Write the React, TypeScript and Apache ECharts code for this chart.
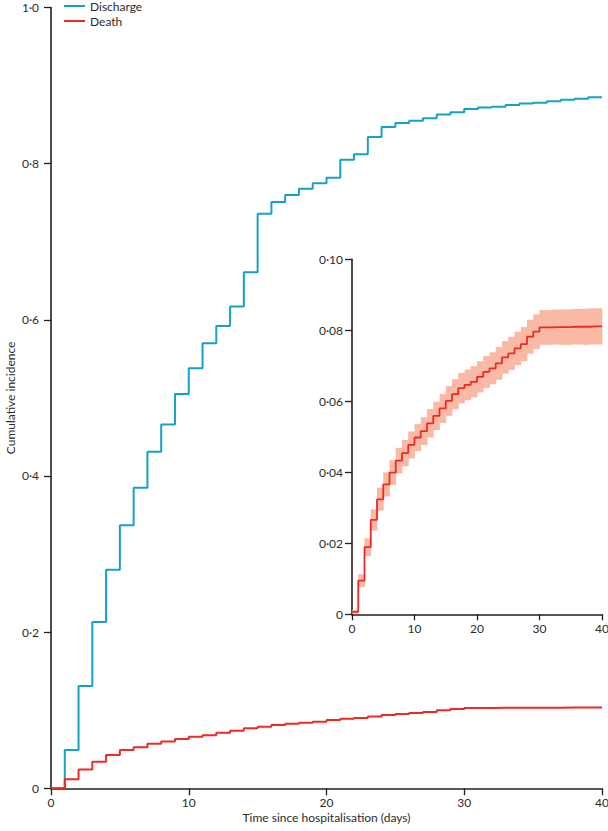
import React, { useEffect, useRef } from 'react';
import * as echarts from 'echarts';

// x positions: days since hospitalisation (interval starts) plus end point 40
const days = Array.from({ length: 41 }, (_, i) => i);

// Main panel cumulative incidence, value held over [day, day+1)
const dischargeCumInc = [0, 0.049, 0.131, 0.213, 0.280, 0.337, 0.385, 0.431, 0.466, 0.505, 0.538, 0.570, 0.592, 0.617, 0.661, 0.736, 0.751, 0.760, 0.768, 0.775, 0.782, 0.805, 0.812, 0.834, 0.847, 0.852, 0.855, 0.858, 0.863, 0.866, 0.870, 0.872, 0.873, 0.875, 0.877, 0.878, 0.880, 0.882, 0.883, 0.885];
const deathCumInc = [0, 0.0115, 0.024, 0.034, 0.0427, 0.049, 0.0525, 0.057, 0.060, 0.063, 0.066, 0.068, 0.0712, 0.0738, 0.0768, 0.0789, 0.081, 0.0827, 0.084, 0.0853, 0.0875, 0.089, 0.090, 0.092, 0.094, 0.095, 0.0964, 0.0977, 0.0999, 0.1016, 0.1028, 0.1030, 0.1032, 0.1032, 0.1033, 0.1033, 0.1033, 0.1034, 0.1034, 0.1034];

// Inset: death cumulative incidence with confidence band
const insetDeath = [0.0007, 0.0095, 0.0189, 0.0266, 0.0324, 0.0366, 0.0399, 0.0433, 0.0454, 0.0477, 0.0498, 0.0516, 0.0538, 0.0559, 0.0580, 0.0601, 0.0620, 0.0637, 0.0646, 0.0655, 0.0669, 0.0683, 0.0693, 0.0707, 0.0724, 0.0735, 0.0749, 0.0761, 0.0782, 0.0796, 0.0808, 0.0808, 0.0809, 0.0809, 0.0809, 0.0810, 0.0810, 0.0810, 0.0811, 0.0811];
const insetLower = [0.0002, 0.0077, 0.0164, 0.0236, 0.0292, 0.0332, 0.0364, 0.0397, 0.0417, 0.0439, 0.0460, 0.0477, 0.0498, 0.0519, 0.0539, 0.0559, 0.0578, 0.0594, 0.0603, 0.0611, 0.0625, 0.0638, 0.0648, 0.0661, 0.0678, 0.0688, 0.0702, 0.0713, 0.0734, 0.0747, 0.0759, 0.0759, 0.0760, 0.0759, 0.0759, 0.0760, 0.0760, 0.0759, 0.0760, 0.0760];
const insetUpper = [0.0012, 0.0113, 0.0214, 0.0296, 0.0356, 0.0400, 0.0434, 0.0469, 0.0491, 0.0515, 0.0536, 0.0555, 0.0578, 0.0599, 0.0621, 0.0643, 0.0662, 0.0680, 0.0689, 0.0699, 0.0713, 0.0728, 0.0738, 0.0753, 0.0770, 0.0782, 0.0796, 0.0809, 0.0830, 0.0845, 0.0857, 0.0857, 0.0858, 0.0859, 0.0859, 0.0860, 0.0860, 0.0861, 0.0862, 0.0862];

const legendNames = ['Discharge', 'Death'];
const xAxisName = 'Time since hospitalisation (days)';
const yAxisName = 'Cumulative incidence';

const BLUE = '#16A2C8';
const RED = '#EE2A24';
const BAND = '#F9B9A4';
const AXIS = '#231F20';
const TEXT = '#2b2b2b';
const FONT = 'Lato';

const stepData = (vals: number[]) =>
  days.map((d, i) => [d, i < vals.length ? vals[i] : vals[vals.length - 1]]);

const fmt = (digits: number) => (v: number) =>
  v === 0 ? '0' : v.toFixed(digits).replace('.', '·');

export default function App() {
  const ref = useRef<HTMLDivElement>(null);
  useEffect(() => {
    if (!ref.current) return;
    const chart = echarts.init(ref.current, undefined, { renderer: 'svg' });
    const axisCommon = {
      axisLine: { show: true, lineStyle: { color: AXIS, width: 1.6 } },
      axisTick: { show: true, length: 7, lineStyle: { color: AXIS, width: 1.3 } },
      splitLine: { show: false },
    };
    chart.setOption({
      animation: false,
      textStyle: { fontFamily: FONT },
      grid: [
        { left: 51, right: 6, top: 7.5, bottom: 42.7, containLabel: false, outerBoundsMode: 'none' },
        { left: 352, right: 6, top: 259.3, bottom: 216.7, containLabel: false, outerBoundsMode: 'none' },
      ],
      legend: {
        data: legendNames,
        orient: 'vertical',
        left: 64,
        top: 0,
        padding: 0,
        icon: 'rect',
        itemWidth: 21,
        itemHeight: 2,
        itemGap: 3,
        textStyle: { fontSize: 12, color: TEXT, fontFamily: FONT },
      },
      xAxis: [
        {
          type: 'value', gridIndex: 0, min: 0, max: 40, interval: 10,
          ...axisCommon,
          axisLabel: { fontSize: 12, color: TEXT, margin: 8, fontFamily: FONT },
          name: xAxisName, nameLocation: 'middle', nameGap: 23, nameMoveOverlap: false,
          nameTextStyle: { fontSize: 12, color: TEXT, fontFamily: FONT },
        },
        {
          type: 'value', gridIndex: 1, min: 0, max: 40, interval: 10,
          ...axisCommon,
          axisTick: { show: true, length: 6, lineStyle: { color: AXIS, width: 1.3 } },
          axisLabel: { fontSize: 12, color: TEXT, margin: 8, fontFamily: FONT },
        },
      ],
      yAxis: [
        {
          type: 'value', gridIndex: 0, min: 0, max: 1, interval: 0.2,
          ...axisCommon,
          axisLabel: { fontSize: 12, color: TEXT, margin: 12, formatter: fmt(1), fontFamily: FONT },
          name: yAxisName, nameLocation: 'middle', nameGap: 35, nameRotate: 90, nameMoveOverlap: false,
          nameTextStyle: { fontSize: 12, color: TEXT, fontFamily: FONT },
        },
        {
          type: 'value', gridIndex: 1, min: 0, max: 0.1, interval: 0.02,
          ...axisCommon,
          axisTick: { show: true, length: 7, lineStyle: { color: AXIS, width: 1.3 } },
          axisLabel: { fontSize: 12, color: TEXT, margin: 9, formatter: fmt(2), fontFamily: FONT },
        },
      ],
      series: [
        {
          name: 'Discharge', type: 'line', step: 'end', xAxisIndex: 0, yAxisIndex: 0,
          data: stepData(dischargeCumInc), showSymbol: false, symbol: 'none',
          lineStyle: { color: BLUE, width: 2 }, itemStyle: { color: BLUE },
        },
        {
          name: 'Death', type: 'line', step: 'end', xAxisIndex: 0, yAxisIndex: 0,
          data: stepData(deathCumInc), showSymbol: false, symbol: 'none',
          lineStyle: { color: RED, width: 2 }, itemStyle: { color: RED },
        },
        {
          name: 'Death CI', type: 'custom', xAxisIndex: 1, yAxisIndex: 1, z: 1,
          data: insetLower.map((lo, i) => [days[i], lo, insetUpper[i]]),
          encode: { x: 0, y: [1, 2] },
          renderItem: (_p: any, api: any) => {
            const d = api.value(0);
            const p0 = api.coord([d, api.value(2)]);
            const p1 = api.coord([d + 1, api.value(1)]);
            return {
              type: 'rect',
              shape: { x: p0[0], y: p0[1], width: p1[0] - p0[0] + 0.4, height: p1[1] - p0[1] },
              style: { fill: BAND },
            };
          },
        },
        {
          name: 'Death (inset)', type: 'line', step: 'end', xAxisIndex: 1, yAxisIndex: 1, z: 3,
          data: stepData(insetDeath), showSymbol: false, symbol: 'none',
          lineStyle: { color: RED, width: 1.8 }, itemStyle: { color: RED },
        },
      ],
    });
    return () => chart.dispose();
  }, []);
  return (
    <div
      ref={ref}
      style={{ position: 'absolute', left: 0, top: 0, width: 608, height: 831, background: '#fff' }}
    />
  );
}
